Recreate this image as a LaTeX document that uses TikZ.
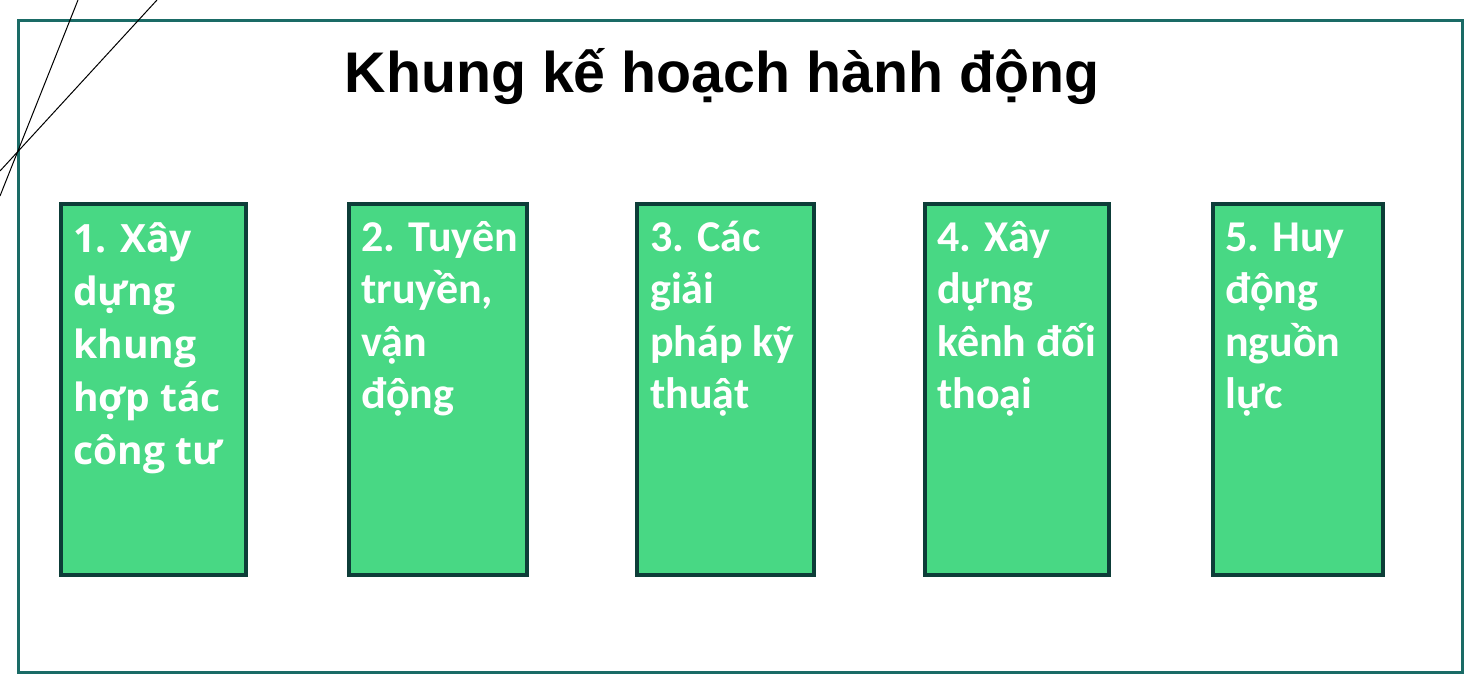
\documentclass[tikz,border=0pt]{standalone}
\usepackage{fontspec}
\setmainfont{Liberation Sans}
\newfontfamily\calfont{Carlito}
\newfontfamily\opfont{Open Sans}
\definecolor{framecol}{HTML}{1A6B66}
\definecolor{boxfill}{HTML}{48D884}
\definecolor{boxline}{HTML}{0D3D38}
\tikzset{
  frameline/.style={draw=framecol, line width=3pt},
  stepbox/.style={draw=boxline, fill=boxfill, line width=4pt, rectangle, inner sep=0pt, minimum height=371pt},
  boxtext/.style={text=white, align=left, anchor=base west, inner sep=0pt, font=\calfont\bfseries\fontsize{44}{52.5}\selectfont},
  boxtextA/.style={boxtext, font=\opfont\bfseries\fontsize{39}{53}\selectfont},
  thinline/.style={draw=black, line width=1pt},
}
\begin{document}
\begin{tikzpicture}[x=1pt,y=-1pt]
\useasboundingbox (0,0) rectangle (1483,696);
\fill[white] (0,0) rectangle (1483,696);
\draw[frameline] (18,20) rectangle (1462,672);
\coordinate (a1) at (78,0);
\coordinate (a2) at (0,196);
\coordinate (b1) at (157,0);
\coordinate (b2) at (0,171);
\draw[thinline] (a1) -- (a2);
\draw[thinline] (b1) -- (b2);
\node[font=\bfseries\fontsize{57.3}{60}\selectfont, anchor=base] (title) at (722,92) {Khung kế hoạch hành động};
\node[stepbox, minimum width=185pt] (s1) at (153.5,389.5) {};
\node[stepbox, minimum width=178pt] (s2) at (438,389.5) {};
\node[stepbox, minimum width=177pt] (s3) at (725.5,389.5) {};
\node[stepbox, minimum width=184pt] (s4) at (1017,389.5) {};
\node[stepbox, minimum width=170pt] (s5) at (1298,389.5) {};
\node[boxtextA] (t1) at (73,464) {1. Xây\\dựng\\khung\\hợp tác\\công tư};
\node[boxtext] (t2) at (361,408.5) {2. Tuyên\\truyền,\\vận\\động};
\node[boxtext] (t3) at (650,408.5) {3. Các\\giải\\pháp kỹ\\thuật};
\node[boxtext] (t4) at (937,408.5) {4. Xây\\dựng\\kênh đối\\thoại};
\node[boxtext] (t5) at (1225,408.5) {5. Huy\\động\\nguồn\\lực};
\end{tikzpicture}
\end{document}
